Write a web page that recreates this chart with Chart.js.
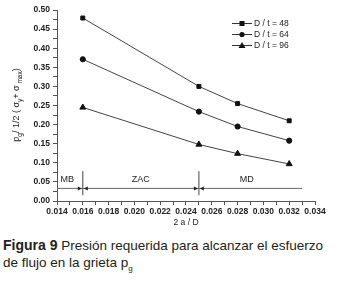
<!DOCTYPE html>
<html><head><meta charset="utf-8">
<script src="https://cdn.jsdelivr.net/npm/chart.js@4/dist/chart.umd.min.js"></script>
<style>
html,body{margin:0;padding:0;background:#fff;width:338px;height:292px;overflow:hidden}
#wrap{position:absolute;left:0;top:0;width:338px;height:228px}
#cap{position:absolute;left:3px;top:237px;width:340px;white-space:nowrap;font-family:"Liberation Sans",Arial,sans-serif;font-size:13.5px;line-height:17px;color:#222}
#cap b{font-size:14px}
#cap sub{font-size:8px}
</style></head><body>
<div id="wrap"><canvas id="c" width="338" height="228"></canvas></div>
<div id="cap"><b>Figura 9</b> Presión requerida para alcanzar el esfuerzo<br>de flujo en la grieta p<sub>g</sub></div>
<script>
const crackRatio = [0.016, 0.025, 0.028, 0.032];
const seriesLabels = ['D / t = 48', 'D / t = 64', 'D / t = 96'];
const dt48 = [0.479, 0.300, 0.255, 0.210];
const dt64 = [0.371, 0.234, 0.195, 0.158];
const dt96 = [0.245, 0.148, 0.124, 0.097];
const zoneBounds = [0.016, 0.025];
const zoneLineY = [0.033];
const zoneLineX = [0.014, 0.033];
const zoneLabels = ['MB', 'ZAC', 'MD'];
const zoneLabelX = [0.0148, 0.0205, 0.0287];
const zoneLabelY = [0.057];
const vLineY = [0.015, 0.078];

const toXY = arr => arr.map((v,i)=>({x:crackRatio[i], y:v}));
const styles = ['rect','circle','triangle'];
const series = [dt48, dt64, dt96];
const datasets = series.map((s,i)=>({
  label: seriesLabels[i], data: toXY(s), borderColor:'#444', borderWidth:1,
  pointStyle: styles[i], pointRadius: i===0?2.8:(i===1?2.6:3.4), backgroundColor:'#111', pointBorderColor:'#111',
  showLine:true, isSeries:true
}));
datasets.push({label:'zone', data: zoneLineX.map(x=>({x, y:zoneLineY[0]})), borderColor:'#666', borderWidth:1, pointRadius:0, showLine:true});
zoneBounds.forEach(b=>datasets.push({label:'bound', data: vLineY.map(y=>({x:b,y})), borderColor:'#444', borderWidth:1, pointRadius:0, showLine:true}));

const font = '"Liberation Sans", Arial, sans-serif';
const overlay = {
  id:'overlay',
  afterDraw(chart){
    const ctx = chart.ctx, xs = chart.scales.x, ys = chart.scales.y;
    ctx.save();
    ctx.fillStyle='#222'; ctx.font='9px '+font; ctx.textAlign='center'; ctx.textBaseline='middle';
    zoneLabels.forEach((t,i)=>ctx.fillText(t, xs.getPixelForValue(zoneLabelX[i]), ys.getPixelForValue(zoneLabelY[0])));
    const yl = ys.getPixelForValue(zoneLineY[0]);
    ctx.fillStyle='#222';
    zoneBounds.forEach(b=>{
      const xb = xs.getPixelForValue(b);
      [-1,1].forEach(d=>{
        ctx.beginPath();
        ctx.moveTo(xb + d*1, yl);
        ctx.lineTo(xb + d*5, yl-2);
        ctx.lineTo(xb + d*5, yl+2);
        ctx.closePath(); ctx.fill();
      });
    });
    // legend
    const lx = 232, ly0 = 23, dy = 11;
    chart.data.datasets.filter(d=>d.isSeries).forEach((d,i)=>{
      const y = ly0 + i*dy;
      ctx.strokeStyle='#333'; ctx.lineWidth=1;
      ctx.beginPath(); ctx.moveTo(lx, y+0.5); ctx.lineTo(lx+20, y+0.5); ctx.stroke();
      ctx.fillStyle='#111';
      const cx = lx+10;
      if(d.pointStyle==='rect'){ ctx.fillRect(cx-2.5,y-2,5,5); }
      else if(d.pointStyle==='circle'){ ctx.beginPath(); ctx.arc(cx,y+0.5,2.6,0,Math.PI*2); ctx.fill(); }
      else { ctx.beginPath(); ctx.moveTo(cx,y-3); ctx.lineTo(cx+3.5,y+3); ctx.lineTo(cx-3.5,y+3); ctx.closePath(); ctx.fill(); }
      ctx.fillStyle='#222'; ctx.font='8.5px '+font; ctx.textAlign='left'; ctx.textBaseline='middle';
      ctx.fillText(d.label, lx+22, y+1);
    });
    // y title with subscripts
    ctx.translate(19, 105);
    ctx.rotate(-Math.PI/2);
    const parts = [['p',9,0],['g',6.5,2.5],['/ 1/2 ( ',9,0],['σ',9,0],['y',6.5,2.5],['+ ',9,0],['σ',9,0],[' max',6.5,2.5],[')',9,0]];
    let w=0; parts.forEach(p=>{ctx.font=p[1]+'px '+font; w+=ctx.measureText(p[0]).width;});
    let x=-w/2; ctx.fillStyle='#222'; ctx.textBaseline='alphabetic'; ctx.textAlign='left';
    parts.forEach(p=>{ctx.font=p[1]+'px '+font; ctx.fillText(p[0], x, p[2]); x+=ctx.measureText(p[0]).width;});
    ctx.restore();
  }
};

new Chart(document.getElementById('c'), {
  type:'scatter',
  data:{datasets},
  options:{
    responsive:false, animation:false, devicePixelRatio:1,
    layout:{padding:{left:0, right:23, top:10, bottom:0}},
    plugins:{legend:{display:false}, tooltip:{enabled:false}},
    scales:{
      x:{type:'linear', min:0.014, max:0.034,
        afterFit:s=>{s.height=27;},
        border:{color:'#555', width:1},
        grid:{drawOnChartArea:false, drawTicks:true, tickLength:4, color:'#555'},
        ticks:{stepSize:0.001, autoSkip:false, maxRotation:0, color:'#222', font:{size:8.5, family:font, weight:'bold'}, padding:2,
          callback:v=>Math.round(v*1000)%2===0 ? v.toFixed(3) : ''},
        title:{display:true, text:'2 a / D', color:'#222', font:{size:8.5, family:font}, padding:{top:1,bottom:0}}
      },
      y:{type:'linear', min:0, max:0.5,
        afterFit:s=>{s.width=57;},
        border:{color:'#555', width:1},
        grid:{drawOnChartArea:false, drawTicks:true, tickLength:4, color:'#555'},
        ticks:{stepSize:0.025, autoSkip:false, color:'#222', font:{size:8.5, family:font, weight:'bold'}, padding:3,
          callback:v=>Math.round(v*1000)%50===0 ? v.toFixed(2) : ''}
      }
    }
  },
  plugins:[overlay]
});
</script>
</body></html>
